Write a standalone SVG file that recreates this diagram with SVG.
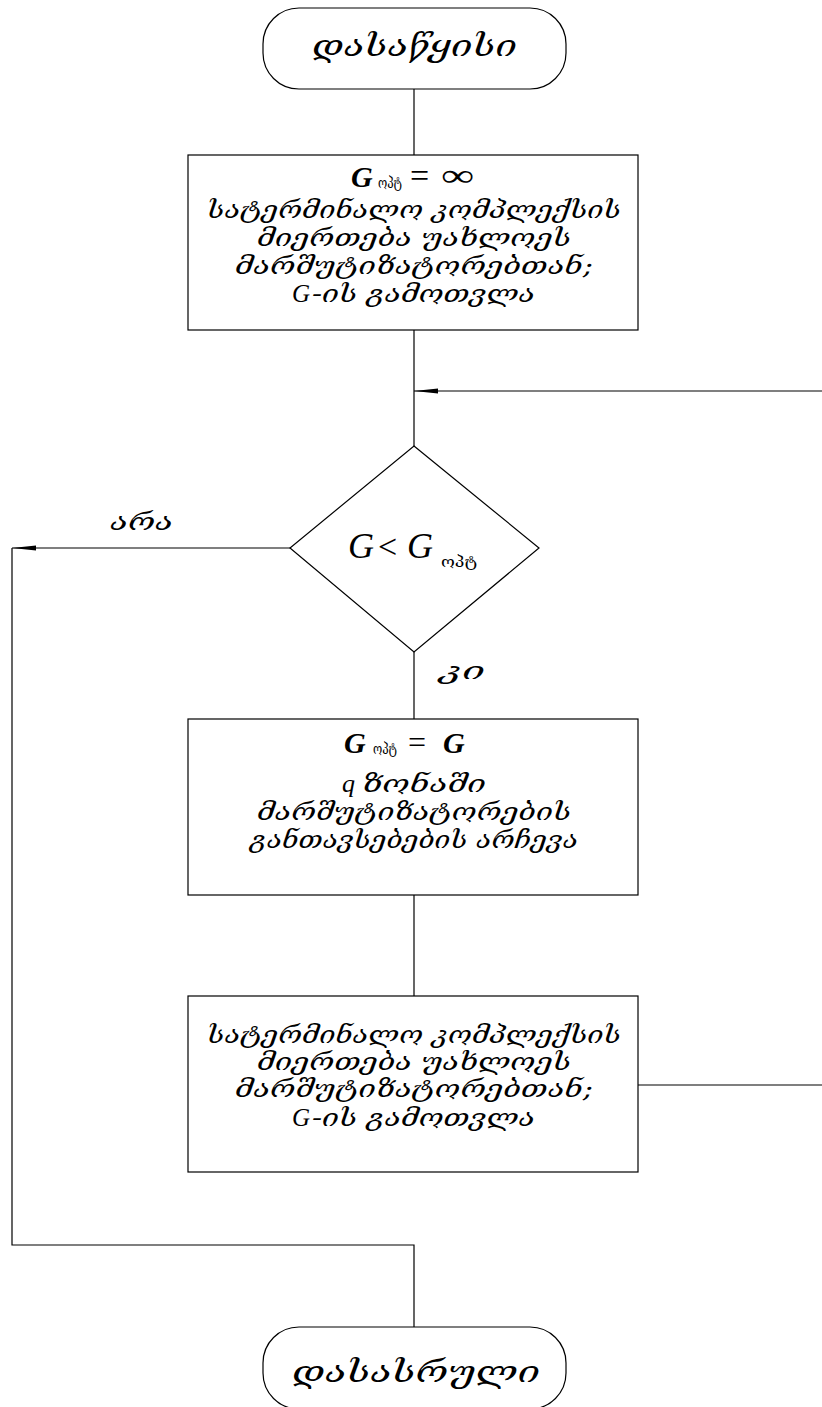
<svg xmlns="http://www.w3.org/2000/svg" width="822" height="1407" viewBox="0 0 822 1407">
  <style>
    .shape { fill: #fff; stroke: #000; stroke-width: 1.2; }
    .wire { fill: none; stroke: #000; stroke-width: 1.2; }
    .geo { font-family: "DejaVu Serif", "DejaVu Sans", serif; font-style: italic; fill: #000; }
    .big { font-size: 29px; }
    .body { font-size: 24px; }
    .math { font-family: "Liberation Serif", "DejaVu Serif", serif; font-style: italic; fill: #000; }
    .op { font-family: "Liberation Serif", "DejaVu Serif", serif; fill: #000; }
    .sub { font-family: "DejaVu Serif", "DejaVu Sans", serif; font-size: 14px; fill: #000; }
  </style>
  <defs>
    <marker id="arrow" viewBox="0 0 24 6" refX="24" refY="3" markerWidth="24" markerHeight="6" markerUnits="userSpaceOnUse" orient="auto">
      <path d="M0,0.4 L24,3 L0,5.6 Z" fill="#000"/>
    </marker>
  </defs>

  <!-- connectors -->
  <g id="connectors">
    <line class="wire" x1="414" y1="89" x2="414" y2="155"/>
    <line class="wire" x1="414" y1="330" x2="414" y2="446"/>
    <line class="wire" x1="822" y1="391" x2="414" y2="391" marker-end="url(#arrow)"/>
    <line class="wire" x1="290" y1="548" x2="12" y2="548" marker-end="url(#arrow)"/>
    <polyline class="wire" points="12,548 12,1245 414,1245 414,1327"/>
    <line class="wire" x1="414" y1="652" x2="414" y2="719"/>
    <line class="wire" x1="414" y1="895" x2="414" y2="996"/>
    <line class="wire" x1="638" y1="1085" x2="822" y2="1085"/>
  </g>

  <!-- start terminal -->
  <g id="start">
    <rect class="shape" x="263" y="8" width="303" height="81" rx="36" ry="36"/>
    <text class="geo big" x="312" y="56" textLength="205" lengthAdjust="spacingAndGlyphs">დასაწყისი</text>
  </g>

  <!-- initialisation block -->
  <g id="init">
    <rect class="shape" x="188" y="155" width="450" height="175"/>
    <text class="math" x="351" y="187" font-size="30" font-weight="bold">G</text>
    <text class="sub" x="378" y="188" textLength="24" lengthAdjust="spacingAndGlyphs">ოპტ</text>
    <text class="op" x="410" y="187" font-size="34">=</text>
    <text class="op" x="441" y="186" font-size="32" textLength="33" lengthAdjust="spacingAndGlyphs">∞</text>
    <text class="geo body" x="207" y="218" textLength="414" lengthAdjust="spacingAndGlyphs">სატერმინალო კომპლექსის</text>
    <text class="geo body" x="257" y="246" textLength="314" lengthAdjust="spacingAndGlyphs">მიერთება უახლოეს</text>
    <text class="geo body" x="235" y="274" textLength="358" lengthAdjust="spacingAndGlyphs">მარშუტიზატორებთან;</text>
    <text class="math" x="292" y="302" font-size="25">G</text>
    <text class="geo body" x="312" y="302" textLength="223" lengthAdjust="spacingAndGlyphs">-ის გამოთვლა</text>
  </g>

  <!-- condition -->
  <g id="decision">
    <polygon class="shape" points="414,446 539,548 414,652 290,548"/>
    <text class="math" x="348" y="558" font-size="36">G</text>
    <text class="op" x="378" y="558" font-size="34">&lt;</text>
    <text class="math" x="407" y="558" font-size="36">G</text>
    <text class="sub" x="441" y="567" font-size="15" textLength="36" lengthAdjust="spacingAndGlyphs">ოპტ</text>
  </g>

  <g id="label-no">
    <text class="geo body" x="110" y="530" font-size="27" textLength="63" lengthAdjust="spacingAndGlyphs">არა</text>
  </g>
  <g id="label-yes">
    <text class="geo body" x="440" y="679" font-size="27" textLength="45" lengthAdjust="spacingAndGlyphs">კი</text>
  </g>

  <!-- optimum update block -->
  <g id="update">
    <rect class="shape" x="188" y="719" width="450" height="176"/>
    <text class="math" x="344" y="753" font-size="30" font-weight="bold">G</text>
    <text class="sub" x="373" y="754" textLength="24" lengthAdjust="spacingAndGlyphs">ოპტ</text>
    <text class="op" x="408" y="753" font-size="32">=</text>
    <text class="math" x="443" y="753" font-size="30" font-weight="bold">G</text>
    <text class="math" x="342" y="792" font-size="26">q</text>
    <text class="geo body" x="362" y="792" textLength="124" lengthAdjust="spacingAndGlyphs">ზონაში</text>
    <text class="geo body" x="257" y="820" textLength="314" lengthAdjust="spacingAndGlyphs">მარშუტიზატორების</text>
    <text class="geo body" x="250" y="848" textLength="328" lengthAdjust="spacingAndGlyphs">განთავსებების არჩევა</text>
  </g>

  <!-- recompute block -->
  <g id="recompute">
    <rect class="shape" x="188" y="996" width="450" height="176"/>
    <text class="geo body" x="207" y="1043" textLength="414" lengthAdjust="spacingAndGlyphs">სატერმინალო კომპლექსის</text>
    <text class="geo body" x="257" y="1070" textLength="314" lengthAdjust="spacingAndGlyphs">მიერთება უახლოეს</text>
    <text class="geo body" x="235" y="1097" textLength="358" lengthAdjust="spacingAndGlyphs">მარშუტიზატორებთან;</text>
    <text class="math" x="292" y="1126" font-size="25">G</text>
    <text class="geo body" x="312" y="1126" textLength="223" lengthAdjust="spacingAndGlyphs">-ის გამოთვლა</text>
  </g>

  <!-- end terminal -->
  <g id="end">
    <rect class="shape" x="263" y="1327" width="303" height="82" rx="36" ry="36"/>
    <text class="geo big" x="292" y="1382" textLength="248" lengthAdjust="spacingAndGlyphs">დასასრული</text>
  </g>
</svg>
